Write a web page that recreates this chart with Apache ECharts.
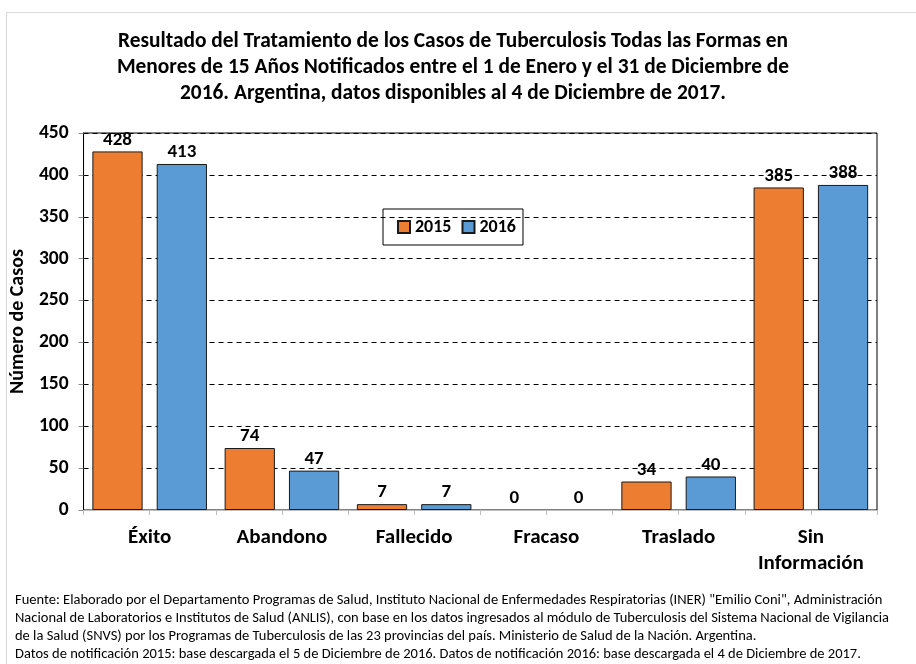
<!DOCTYPE html>
<html><head><meta charset="utf-8">
<script src="https://cdn.jsdelivr.net/npm/echarts@6/dist/echarts.min.js"></script>
<style>
html,body{margin:0;padding:0;background:#fff;}
#frame{position:absolute;left:6px;top:12px;width:920px;height:700px;border:1px solid #d9d9d9;box-sizing:border-box;}
#c{position:absolute;left:0;top:0;width:916px;height:664px;}
</style></head>
<body><div id="frame"></div><div id="c"></div>
<script>
var FONT = 'Carlito, Calibri, Lato, "Open Sans", sans-serif';
var categories = ['Éxito', 'Abandono', 'Fallecido', 'Fracaso', 'Traslado', 'Sin\nInformación'];
var values2015 = [428, 74, 7, 0, 34, 385];
var values2016 = [413, 47, 7, 0, 40, 388];
var seriesNames = ['2015', '2016'];
var yTicks = {min: 0, max: 450, interval: 50};
var titleText = 'Resultado del Tratamiento de los Casos de Tuberculosis Todas las Formas en\nMenores de 15 Años Notificados entre el 1 de Enero y el 31 de Diciembre de\n2016. Argentina, datos disponibles al 4 de Diciembre de 2017.';
var footText = 'Fuente: Elaborado por el Departamento Programas de Salud, Instituto Nacional de Enfermedades Respiratorias (INER) "Emilio Coni", Administración\nNacional de Laboratorios e Institutos de Salud (ANLIS), con base en los datos ingresados al módulo de Tuberculosis del Sistema Nacional de Vigilancia\nde la Salud (SNVS) por los Programas de Tuberculosis de las 23 provincias del país. Ministerio de Salud de la Nación. Argentina.\nDatos de notificación 2015: base descargada el 5 de Diciembre de 2016. Datos de notificación 2016: base descargada el 4 de Diciembre de 2017.';

var tickCats = [];
for (var i = 0; i < categories.length * 2; i++) tickCats.push('t' + i);

function toBars(vals) {
  return vals.map(function (v) {
    return v === 0 ? {value: v, itemStyle: {borderWidth: 0}} : v;
  });
}

var chart = echarts.init(document.getElementById('c'), null, {renderer: 'canvas'});
var labelStyle = {show: true, position: 'top', distance: 2, color: '#000', fontFamily: FONT, fontWeight: 'bold', fontSize: 19};
chart.setOption({
  backgroundColor: 'transparent',
  animation: false,
  title: [{
    text: titleText, left: 448, top: 24, textAlign: 'center',
    textStyle: {fontFamily: FONT, fontWeight: 'bold', fontSize: 21.4, lineHeight: 25.7, color: '#000'}
  }, {
    text: footText, left: 10, top: 587,
    textStyle: {fontFamily: FONT, fontWeight: 'normal', fontSize: 14.5, lineHeight: 17.7, color: '#000'}
  }],
  legend: {
    data: seriesNames, left: 383, top: 209, orient: 'horizontal',
    borderColor: '#000', borderWidth: 1, padding: [9, 7, 9, 14],
    itemWidth: 12, itemHeight: 12, itemGap: 10, icon: 'rect',
    textStyle: {fontFamily: FONT, fontWeight: 'bold', fontSize: 18, color: '#000'}
  },
  grid: {left: 83, right: 39, top: 133, bottom: 154, show: true, borderColor: '#000', borderWidth: 1, backgroundColor: 'transparent', containLabel: false},
  xAxis: [{
    type: 'category', data: categories, position: 'bottom',
    axisLine: {show: true, lineStyle: {color: '#bfbfbf', width: 1}},
    axisTick: {show: false},
    axisLabel: {interval: 0, hideOverlap: false, color: '#000', fontFamily: FONT, fontWeight: 'bold', fontSize: 21, lineHeight: 26, margin: 15}
  }, {
    type: 'category', data: tickCats, position: 'bottom',
    axisLine: {show: false},
    axisTick: {show: true, interval: 0, length: 5, lineStyle: {color: '#bfbfbf'}},
    axisLabel: {show: false}
  }],
  yAxis: {
    type: 'value', min: yTicks.min, max: yTicks.max, interval: yTicks.interval,
    name: 'Número de Casos', nameLocation: 'middle', nameGap: 47, nameRotate: 90,
    nameTextStyle: {color: '#000', fontFamily: FONT, fontWeight: 'bold', fontSize: 20},
    axisLine: {show: true, lineStyle: {color: '#000'}},
    axisTick: {show: true, length: 5, lineStyle: {color: '#8c8c8c'}},
    axisLabel: {color: '#000', fontFamily: FONT, fontWeight: 'bold', fontSize: 19.5, margin: 15},
    splitLine: {show: true, lineStyle: {color: '#000', type: [5, 4], width: 1}}
  },
  series: [{
    name: seriesNames[0], type: 'bar', data: toBars(values2015), xAxisIndex: 0,
    barWidth: '38%', barGap: '28%',
    itemStyle: {color: '#ED7D31', borderColor: '#1a1a1a', borderWidth: 1},
    label: labelStyle
  }, {
    name: seriesNames[1], type: 'bar', data: toBars(values2016), xAxisIndex: 0,
    barWidth: '38%', barGap: '28%',
    itemStyle: {color: '#5B9BD5', borderColor: '#1a1a1a', borderWidth: 1},
    label: labelStyle
  }]
});
</script></body></html>
